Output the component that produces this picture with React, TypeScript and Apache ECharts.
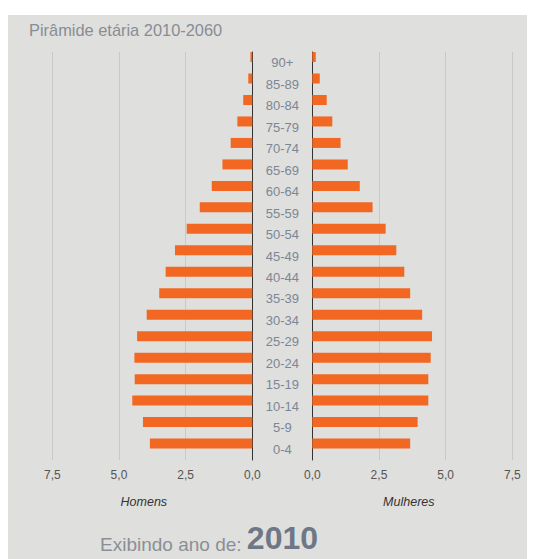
import React, { useEffect, useRef } from "react";
import * as echarts from "echarts";

const AGE_GROUPS = ["90+", "85-89", "80-84", "75-79", "70-74", "65-69", "60-64", "55-59", "50-54", "45-49", "40-44", "35-39", "30-34", "25-29", "20-24", "15-19", "10-14", "5-9", "0-4"];
const MEN = [0.07, 0.15, 0.34, 0.56, 0.81, 1.12, 1.52, 1.97, 2.46, 2.9, 3.25, 3.49, 3.96, 4.32, 4.42, 4.41, 4.5, 4.1, 3.84];
const WOMEN = [0.13, 0.28, 0.54, 0.75, 1.06, 1.33, 1.78, 2.26, 2.75, 3.15, 3.45, 3.67, 4.12, 4.49, 4.44, 4.35, 4.35, 3.95, 3.67];
const X_MAX = 7.5;
const X_INTERVAL = 2.5;
const TITLE = "Pirâmide etária 2010-2060";
const LEFT_NAME = "Homens";
const RIGHT_NAME = "Mulheres";
const YEAR_PREFIX = "Exibindo ano de: ";
const YEAR = "2010";

const FONT = "'Liberation Sans', Arial, sans-serif";
const BAR_COLOR = "#f26722";
const GRID_COLOR = "#c9c9c7";
const AXIS_COLOR = "#333333";

const fmt = (v: number) => v.toFixed(1).replace(".", ",");

export default function App() {
  const ref = useRef<HTMLDivElement>(null);
  useEffect(() => {
    if (!ref.current) return;
    const chart = echarts.init(ref.current, undefined, { renderer: "svg" });
    const empty = AGE_GROUPS.map(() => "-");
    const xCommon = {
      type: "value",
      min: 0,
      max: X_MAX,
      interval: X_INTERVAL,
      axisLine: { show: false },
      axisTick: { show: false },
      splitLine: { show: true, lineStyle: { color: GRID_COLOR, width: 1 } },
      axisLabel: {
        formatter: (v: number) => fmt(v),
        color: "#555555",
        fontSize: 12,
        fontFamily: FONT,
        margin: 9,
        showMinLabel: true,
        showMaxLabel: true,
      },
      nameLocation: "middle",
      nameGap: 35,
    };
    chart.setOption({
      animation: false,
      backgroundColor: "#dfdfdd",
      title: {
        text: TITLE,
        left: 21,
        top: 7,
        padding: 0,
        textStyle: { color: "#878d94", fontSize: 16.4, fontWeight: "normal", fontFamily: FONT },
      },
      grid: [
        { left: 44.3, width: 200, top: 37, height: 408 },
        { left: 304.3, width: 200, top: 37, height: 408 },
      ],
      xAxis: [
        {
          ...xCommon,
          gridIndex: 0,
          inverse: true,
          name: LEFT_NAME,
          nameTextStyle: { color: "#333", fontStyle: "italic", fontSize: 12.5, fontFamily: FONT, padding: [0, 17, 0, 0] },
        },
        {
          ...xCommon,
          gridIndex: 1,
          name: RIGHT_NAME,
          nameTextStyle: { color: "#333", fontStyle: "italic", fontSize: 12.5, fontFamily: FONT, padding: [0, 7, 0, 0] },
        },
      ],
      yAxis: [
        {
          type: "category",
          gridIndex: 0,
          data: AGE_GROUPS,
          inverse: true,
          position: "right",
          axisLine: { show: true, lineStyle: { color: AXIS_COLOR, width: 1 } },
          axisTick: { show: false },
          axisLabel: { show: false },
        },
        {
          type: "category",
          gridIndex: 1,
          data: AGE_GROUPS,
          inverse: true,
          position: "left",
          axisLine: { show: true, lineStyle: { color: AXIS_COLOR, width: 1 } },
          axisTick: { show: false },
          axisLabel: {
            show: true,
            margin: 30,
            align: "center",
            color: "#7c8695",
            fontSize: 13,
            fontFamily: FONT,
            interval: 0,
          },
        },
      ],
      series: [
        {
          name: LEFT_NAME,
          type: "bar",
          xAxisIndex: 0,
          yAxisIndex: 0,
          data: MEN,
          barWidth: 10,
          barGap: "14%",
          itemStyle: { color: BAR_COLOR },
        },
        {
          name: "pad-left",
          type: "bar",
          xAxisIndex: 0,
          yAxisIndex: 0,
          data: empty,
          barWidth: 10,
          barGap: "14%",
          itemStyle: { color: "transparent" },
          silent: true,
        },
        {
          name: RIGHT_NAME,
          type: "bar",
          xAxisIndex: 1,
          yAxisIndex: 1,
          data: WOMEN,
          barWidth: 10,
          barGap: "14%",
          itemStyle: { color: BAR_COLOR },
        },
        {
          name: "pad-right",
          type: "bar",
          xAxisIndex: 1,
          yAxisIndex: 1,
          data: empty,
          barWidth: 10,
          barGap: "14%",
          itemStyle: { color: "transparent" },
          silent: true,
        },
      ],
      graphic: [
        {
          type: "text",
          left: 92,
          bottom: 5,
          style: {
            text: `{a|${YEAR_PREFIX}}{b|${YEAR}}`,
            fill: "#8a8f96",
            rich: {
              a: { fontSize: 19, fill: "#8a8f96", color: "#8a8f96", fontFamily: FONT, verticalAlign: "bottom", lineHeight: 23 },
              b: { fontSize: 32, fontWeight: "bold", fill: "#6e7785", color: "#6e7785", fontFamily: FONT, verticalAlign: "bottom", lineHeight: 32 },
            },
          },
        },
      ],
    });
    return () => chart.dispose();
  }, []);
  return (
    <div style={{ paddingTop: 7 }}>
      <div ref={ref} style={{ width: 527, height: 544 }} />
    </div>
  );
}
